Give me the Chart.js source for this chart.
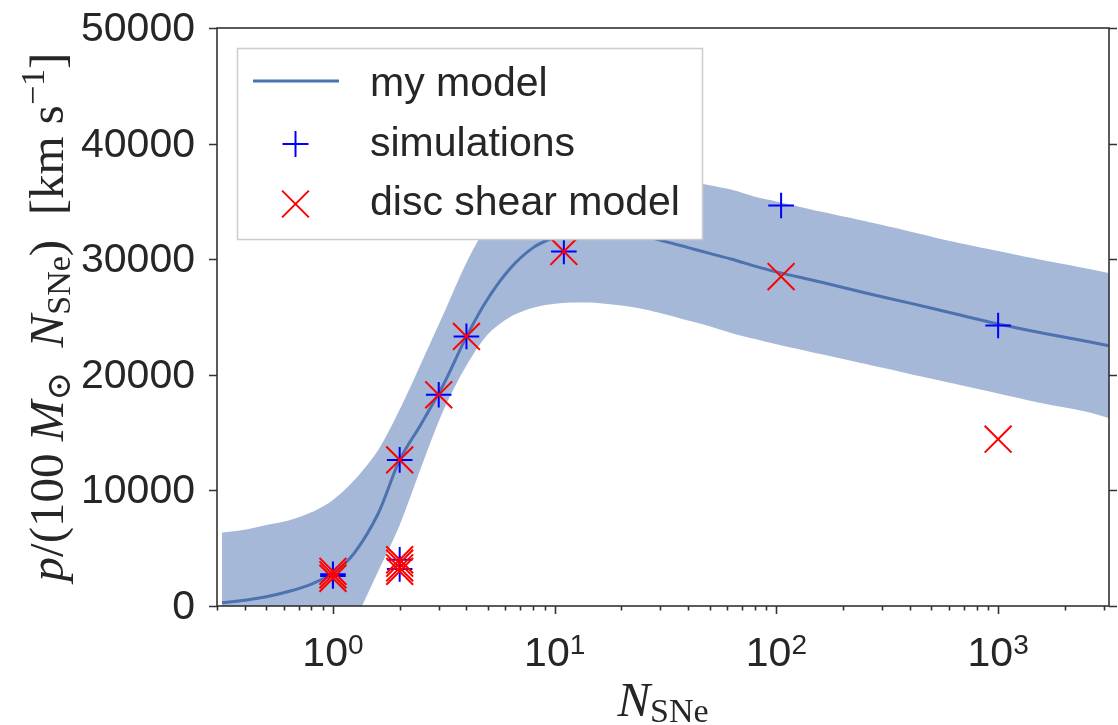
<!DOCTYPE html>
<html><head><meta charset="utf-8">
<script src="https://cdn.jsdelivr.net/npm/chart.js@4.4.0/dist/chart.umd.min.js"></script>
<style>html,body{margin:0;padding:0;background:#fff;overflow:hidden;}#wrap{width:1118px;height:725px;}</style>
</head><body><div id="wrap"><canvas id="c" width="1118" height="725"></canvas></div>
<script>
// ---- data ----
const modelX = [0.3162, 0.4, 0.5, 0.63, 0.8, 1, 1.25, 1.6, 2, 2.5, 3.16, 4, 5, 6.3, 8, 10, 12.6, 16, 20, 25, 32, 40, 50, 63, 80, 100, 160, 250, 400, 630, 1000, 1600, 2500, 3162.3];
const modelY = [290, 500, 800, 1250, 1900, 2830, 4600, 8000, 12640, 15750, 19200, 23300, 26600, 29200, 31000, 31900, 32400, 32500, 32300, 32000, 31500, 31000, 30500, 30000, 29400, 28900, 28000, 27100, 26200, 25300, 24400, 23600, 22900, 22500];
const bandUpper = [6350, 6600, 7000, 7400, 8100, 9180, 10900, 13500, 17000, 21000, 25300, 29700, 33000, 35200, 36500, 37200, 37500, 37600, 37500, 37300, 37000, 36700, 36400, 36000, 35400, 35000, 34100, 33300, 32400, 31500, 30700, 29900, 29200, 28800];
const bandLower = [-5800, -5600, -5100, -4600, -4100, -3500, -1200, 3000, 7000, 12000, 17000, 20800, 23500, 25000, 25800, 26150, 26250, 26200, 26000, 25700, 25200, 24700, 24200, 23600, 23100, 22650, 21780, 20950, 20080, 19240, 18380, 17510, 16800, 16250];
const simX = [1, 1, 2, 2, 2, 3, 4, 11, 105, 1000];
const simY = [2600, 2750, 3200, 4000, 12640, 18270, 23320, 30670, 34640, 24270];
const shearX = [1, 1, 1, 2, 2, 2, 2, 2, 3, 4, 11, 105, 1000];
const shearY = [2400, 2700, 3000, 3000, 3300, 3700, 4000, 12640, 18270, 23320, 30670, 28500, 14430];
const yTickValues = [0, 10000, 20000, 30000, 40000, 50000];
const yTickLabels = ['0', '10000', '20000', '30000', '40000', '50000'];
const xTickValues = [1, 10, 100, 1000];
const xTickBase = ['10', '10', '10', '10'];
const xTickExp = ['0', '1', '2', '3'];
const legendLabels = ['my model', 'simulations', 'disc shear model'];

// ---- style ----
const TEXT = '#262626';
const SPINE = '#333333';
const SANSF = '"Liberation Sans", Arial, sans-serif';
const SERIFF = '"Liberation Serif", "DejaVu Serif", serif';
const LINE_BLUE = '#4C72B0';
const BAND = 'rgba(76,114,176,0.5)';
const AREA = {left: 217, top: 28, right: 1109, bottom: 606};

const pts = (xs, ys) => xs.map((x, i) => ({x: x, y: ys[i]}));

function richWidth(ctx, parts) {
  let w = 0;
  for (const p of parts) { ctx.font = p.font; w += ctx.measureText(p.t).width; }
  return w;
}
function drawRich(ctx, parts, x, y) {
  let cx = x;
  for (const p of parts) {
    ctx.font = p.font;
    ctx.fillText(p.t, cx, y + (p.dy || 0));
    cx += ctx.measureText(p.t).width;
  }
}

const decor = {
  id: 'decor',
  afterDraw(chart) {
    const ctx = chart.ctx;
    const a = chart.chartArea;
    const xs = chart.scales.x, ys = chart.scales.y;
    ctx.save();
    ctx.strokeStyle = SPINE;
    ctx.fillStyle = TEXT;
    // spines
    ctx.lineWidth = 1.6;
    ctx.strokeRect(a.left, a.top, a.right - a.left, a.bottom - a.top);
    // left + right ticks, y labels
    ctx.beginPath();
    ctx.font = '41px ' + SANSF;
    ctx.textAlign = 'right';
    ctx.textBaseline = 'middle';
    for (let i = 0; i < yTickValues.length; i++) {
      const py = Math.round(ys.getPixelForValue(yTickValues[i])) + 0.5;
      ctx.moveTo(a.right, py); ctx.lineTo(a.right + 8, py);
      ctx.moveTo(a.left - 8, py); ctx.lineTo(a.left, py);
      ctx.fillText(yTickLabels[i], a.left - 22, py + 1);
    }
    ctx.stroke();
    // bottom ticks (major + minor)
    ctx.beginPath();
    for (let e = -1; e <= 3; e++) {
      for (let m = 1; m <= 9; m++) {
        const v = m * Math.pow(10, e);
        if (v < xs.min || v > xs.max) continue;
        const px = Math.round(xs.getPixelForValue(v)) + 0.5;
        const len = (m === 1) ? 8 : 4.5;
        ctx.moveTo(px, a.bottom); ctx.lineTo(px, a.bottom + len);
      }
    }
    ctx.stroke();
    // x tick labels with superscripts
    ctx.textBaseline = 'alphabetic';
    ctx.textAlign = 'left';
    for (let i = 0; i < xTickValues.length; i++) {
      const px = xs.getPixelForValue(xTickValues[i]);
      const parts = [
        {t: xTickBase[i], font: '41px ' + SANSF},
        {t: xTickExp[i], font: '28px ' + SANSF, dy: -12}
      ];
      const w = richWidth(ctx, parts);
      drawRich(ctx, parts, px - w / 2, 666);
    }
    // x title
    const F = 49;
    const s = Math.round(F * 0.7);
    const xParts = [
      {t: 'N', font: 'italic ' + F + 'px ' + SERIFF},
      {t: 'SNe', font: s + 'px ' + SERIFF, dy: 6}
    ];
    const xw = richWidth(ctx, xParts);
    drawRich(ctx, xParts, (a.left + a.right) / 2 - xw / 2, 716);
    // y title
    const yParts = [
      {t: 'p', font: 'italic ' + F + 'px ' + SERIFF},
      {t: '/(100 ', font: F + 'px ' + SERIFF},
      {t: 'M', font: 'italic ' + F + 'px ' + SERIFF},
      {t: '\u2299', font: s + 'px "DejaVu Serif", ' + SERIFF, dy: 7},
      {t: '  ', font: F + 'px ' + SERIFF},
      {t: 'N', font: 'italic ' + F + 'px ' + SERIFF},
      {t: 'SNe', font: s + 'px ' + SERIFF, dy: 7},
      {t: ')  [km s', font: F + 'px ' + SERIFF},
      {t: '\u22121', font: s + 'px ' + SERIFF, dy: -19},
      {t: ']', font: F + 'px ' + SERIFF}
    ];
    const yw = richWidth(ctx, yParts);
    ctx.save();
    ctx.translate(63, (a.top + a.bottom) / 2);
    ctx.rotate(-Math.PI / 2);
    drawRich(ctx, yParts, -yw / 2, 0);
    ctx.restore();
    // legend
    const L = {x: 237, y: 48, w: 465, h: 191};
    ctx.fillStyle = '#ffffff';
    ctx.fillRect(L.x, L.y, L.w, L.h);
    ctx.strokeStyle = '#cccccc';
    ctx.lineWidth = 1.5;
    ctx.strokeRect(L.x + 0.5, L.y + 0.5, L.w, L.h);
    ctx.strokeStyle = LINE_BLUE;
    ctx.lineWidth = 3;
    ctx.beginPath(); ctx.moveTo(253, 81); ctx.lineTo(339, 81); ctx.stroke();
    ctx.strokeStyle = '#0000ff';
    ctx.lineWidth = 2;
    ctx.beginPath();
    ctx.moveTo(295.5 - 13, 144); ctx.lineTo(295.5 + 13, 144);
    ctx.moveTo(295.5, 144 - 13); ctx.lineTo(295.5, 144 + 13);
    ctx.stroke();
    ctx.strokeStyle = '#ff0000';
    const r = 13.4;
    ctx.beginPath();
    ctx.moveTo(295.5 - r, 204 - r); ctx.lineTo(295.5 + r, 204 + r);
    ctx.moveTo(295.5 - r, 204 + r); ctx.lineTo(295.5 + r, 204 - r);
    ctx.stroke();
    ctx.fillStyle = TEXT;
    ctx.font = '41px ' + SANSF;
    ctx.fillText(legendLabels[0], 370, 96);
    ctx.fillText(legendLabels[1], 370, 156);
    ctx.fillText(legendLabels[2], 370, 215);
    ctx.restore();
  }
};

const padding = {left: AREA.left, top: AREA.top, right: 1118 - AREA.right, bottom: 725 - AREA.bottom};
const chart = new Chart(document.getElementById('c'), {
  type: 'line',
  data: {
    datasets: [
      {label: 'band upper', data: pts(modelX, bandUpper), fill: '+1', backgroundColor: BAND,
       borderWidth: 0, borderColor: 'rgba(0,0,0,0)', pointRadius: 0, tension: 0.3, order: 5},
      {label: 'band lower', data: pts(modelX, bandLower), fill: false,
       borderWidth: 0, borderColor: 'rgba(0,0,0,0)', pointRadius: 0, tension: 0.3, order: 6},
      {label: legendLabels[0], data: pts(modelX, modelY), fill: false, borderColor: LINE_BLUE,
       borderWidth: 3, pointRadius: 0, tension: 0.3, order: 3},
      {label: legendLabels[1], data: pts(simX, simY), showLine: false, pointStyle: 'cross',
       pointRadius: 12.8, pointBorderColor: '#0000ff', pointBorderWidth: 2, borderColor: '#0000ff', order: 2},
      {label: legendLabels[2], data: pts(shearX, shearY), showLine: false, pointStyle: 'crossRot',
       pointRadius: 19, pointBorderColor: '#ff0000', pointBorderWidth: 2, borderColor: '#ff0000', order: 1}
    ]
  },
  options: {
    responsive: false,
    animation: false,
    events: [],
    layout: {autoPadding: false, padding: padding},
    plugins: {legend: {display: false}, tooltip: {enabled: false}},
    scales: {
      x: {type: 'logarithmic', display: false, min: Math.pow(10, -0.5), max: Math.pow(10, 3.5)},
      y: {type: 'linear', display: false, min: 0, max: 50000}
    }
  },
  plugins: [decor]
});
</script></body></html>
